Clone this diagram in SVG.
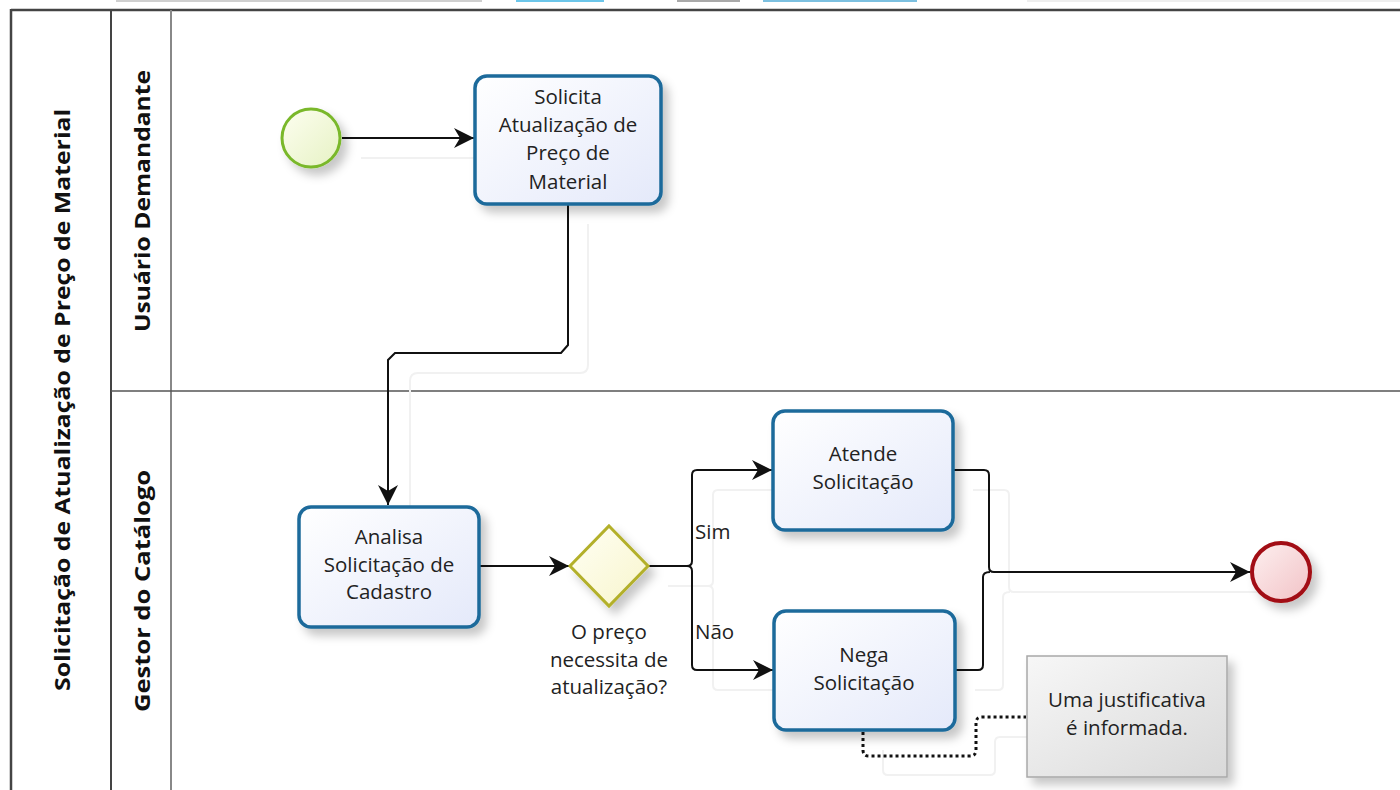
<svg xmlns="http://www.w3.org/2000/svg" width="1400" height="790" viewBox="0 0 1400 790">
  <defs>
    <style>
      .task { fill: url(#gTask); stroke: #1e6b9b; stroke-width: 3.5; filter: url(#sh); }
      .lbl { font-family: "Open Sans", "Noto Sans", sans-serif; font-size: 20.5px; fill: #222; text-anchor: middle; }
      .lblL { font-family: "Open Sans", "Noto Sans", sans-serif; font-size: 20.5px; fill: #222; }
      .lane { font-family: "Open Sans", "Noto Sans", sans-serif; font-weight: 700; font-size: 21px; fill: #111; text-anchor: middle; }
      .flow { fill: none; stroke: #111; stroke-width: 2; }
      .ghost { fill: none; stroke: #f1f1f1; stroke-width: 2; }
      .assoc { fill: none; stroke: #111; stroke-width: 3; stroke-dasharray: 3 3; }
    </style>
    <linearGradient id="gTask" x1="0" y1="0" x2="1" y2="1">
      <stop offset="0" stop-color="#ffffff"/>
      <stop offset="1" stop-color="#e4e9fa"/>
    </linearGradient>
    <linearGradient id="gStart" x1="0" y1="0" x2="1" y2="1">
      <stop offset="0" stop-color="#fdfef0"/>
      <stop offset="1" stop-color="#e6f2c4"/>
    </linearGradient>
    <linearGradient id="gEnd" x1="0" y1="0" x2="1" y2="1">
      <stop offset="0" stop-color="#fdf0f0"/>
      <stop offset="1" stop-color="#f2c2c6"/>
    </linearGradient>
    <linearGradient id="gGw" x1="0" y1="0" x2="1" y2="1">
      <stop offset="0" stop-color="#fffff4"/>
      <stop offset="1" stop-color="#f8f5cc"/>
    </linearGradient>
    <linearGradient id="gNote" x1="0" y1="0" x2="1" y2="1">
      <stop offset="0" stop-color="#f7f7f7"/>
      <stop offset="1" stop-color="#d9d9d9"/>
    </linearGradient>
    <filter id="sh" x="-20%" y="-20%" width="150%" height="150%">
      <feDropShadow dx="6" dy="7" stdDeviation="5" flood-color="#000" flood-opacity="0.22"/>
    </filter>
    <marker id="arr" markerUnits="userSpaceOnUse" markerWidth="22" markerHeight="22" refX="20" refY="10" orient="auto">
      <path d="M0,0 L20,10 L0,20 L6,10 z" fill="#111"/>
    </marker>
  </defs>

  <rect width="1400" height="790" fill="#ffffff"/>

  <!-- top screen artifacts -->
  <g id="topbar">
    <rect x="116" y="0" width="366" height="2" fill="#cfcfcf"/>
    <rect x="516" y="0" width="88" height="2" fill="#6cc6ea"/>
    <rect x="677" y="0" width="63" height="2" fill="#a9a9a9"/>
    <rect x="763" y="0" width="154" height="2" fill="#7cc0e0"/>
    <rect x="1027" y="0" width="373" height="2" fill="#eeeeee"/>
  </g>

  <!-- pool and lanes -->
  <g id="pool">
    <line x1="11" y1="10" x2="1400" y2="10" stroke="#444" stroke-width="2.5"/>
    <line x1="11" y1="9" x2="11" y2="790" stroke="#444" stroke-width="2.5"/>
    <line x1="111" y1="10" x2="111" y2="790" stroke="#444" stroke-width="2"/>
    <line x1="171" y1="10" x2="171" y2="790" stroke="#888" stroke-width="2"/>
    <line x1="111" y1="391" x2="1400" y2="391" stroke="#555" stroke-width="1.5"/>
    <text class="lane" transform="translate(70,400) rotate(-90)" textLength="582" lengthAdjust="spacingAndGlyphs">Solicitação de Atualização de Preço de Material</text>
    <text class="lane" transform="translate(150,201) rotate(-90)" textLength="262" lengthAdjust="spacingAndGlyphs">Usuário Demandante</text>
    <text class="lane" transform="translate(150,591) rotate(-90)" textLength="242" lengthAdjust="spacingAndGlyphs">Gestor do Catálogo</text>
  </g>

  <!-- connectors -->
  <g id="connectors">
    <!-- ghost shadows -->
    <path class="ghost" d="M361,158 H495"/>
    <path class="ghost" d="M588,224 V365 Q588,373 580,373 H418 Q410,373 410,381 V525"/>
    <path class="ghost" d="M668,586 H708 Q713,586 713,581 V495 Q713,490 718,490 H792"/>
    <path class="ghost" d="M708,586 Q713,586 713,591 V685 Q713,690 718,690 H793"/>
    <path class="ghost" d="M973,490 H1004 Q1009,490 1009,495 V587 Q1009,592 1014,592 H1270"/>
    <path class="ghost" d="M975,690 H998 Q1003,690 1003,685 V597 Q1003,592 1010,592"/>
    <path class="ghost" d="M883,750 V770 Q883,775 888,775 H990 Q995,775 995,770 V742 Q995,737 1000,737 H1042"/>

    <path id="f1" class="flow" d="M342,138 H474" marker-end="url(#arr)"/>
    <path id="f2" class="flow" d="M568,205 V345 L561,353 H395 L388,360 V505" marker-end="url(#arr)"/>
    <path id="f3" class="flow" d="M480,566 H569" marker-end="url(#arr)"/>
    <path id="f4" class="flow" d="M649,566 H687 Q692,566 692,561 V475 Q692,470 697,470 H772" marker-end="url(#arr)"/>
    <path id="f5" class="flow" d="M687,566 Q692,566 692,571 V665 Q692,670 697,670 H773" marker-end="url(#arr)"/>
    <path id="f6" class="flow" d="M954,470 H984 Q989,470 989,475 V567 Q989,572 994,572 H1250" marker-end="url(#arr)"/>
    <path id="f7" class="flow" d="M956,670 H978 Q983,670 983,665 V577 Q983,572 990,572"/>
    <path id="a1" class="assoc" d="M863,732 V750 Q863,756 869,756 H970 Q976,756 976,750 V723 Q976,717 982,717 H1026"/>
    <text class="lblL" x="695" y="539">Sim</text>
    <text class="lblL" x="695" y="639">Não</text>
  </g>

  <!-- start event -->
  <g id="start">
    <circle cx="311" cy="138" r="29" fill="url(#gStart)" stroke="#7ab82c" stroke-width="3" filter="url(#sh)"/>
  </g>

  <!-- task: Solicita Atualização -->
  <g id="task-solicita">
    <rect class="task" x="475" y="76" width="186" height="128" rx="12"/>
    <text class="lbl" x="568" y="104">Solicita</text>
    <text class="lbl" x="568" y="132">Atualização de</text>
    <text class="lbl" x="568" y="160">Preço de</text>
    <text class="lbl" x="568" y="189">Material</text>
  </g>

  <!-- task: Analisa -->
  <g id="task-analisa">
    <rect class="task" x="299" y="507" width="180" height="120" rx="12"/>
    <text class="lbl" x="389" y="544">Analisa</text>
    <text class="lbl" x="389" y="572">Solicitação de</text>
    <text class="lbl" x="389" y="599">Cadastro</text>
  </g>

  <!-- gateway -->
  <g id="gateway">
    <path d="M609,526 L648,566 L609,606 L570,566 z" fill="url(#gGw)" stroke="#b3b02c" stroke-width="3" filter="url(#sh)"/>
    <text class="lbl" x="609" y="639">O preço</text>
    <text class="lbl" x="609" y="667">necessita de</text>
    <text class="lbl" x="609" y="694">atualização?</text>
  </g>

  <!-- task: Atende -->
  <g id="task-atende">
    <rect class="task" x="773" y="411" width="180" height="119" rx="12"/>
    <text class="lbl" x="863" y="461">Atende</text>
    <text class="lbl" x="863" y="489">Solicitação</text>
  </g>

  <!-- task: Nega -->
  <g id="task-nega">
    <rect class="task" x="774" y="611" width="181" height="119" rx="12"/>
    <text class="lbl" x="864" y="662">Nega</text>
    <text class="lbl" x="864" y="690">Solicitação</text>
  </g>

  <!-- end event -->
  <g id="end">
    <circle cx="1281" cy="572" r="29" fill="url(#gEnd)" stroke="#a20e12" stroke-width="4" filter="url(#sh)"/>
  </g>

  <!-- annotation -->
  <g id="note">
    <rect x="1027" y="656" width="200" height="121" fill="url(#gNote)" stroke="#a8a8a8" stroke-width="1.5" filter="url(#sh)"/>
    <text class="lbl" x="1127" y="707">Uma justificativa</text>
    <text class="lbl" x="1127" y="735">é informada.</text>
  </g>
</svg>
